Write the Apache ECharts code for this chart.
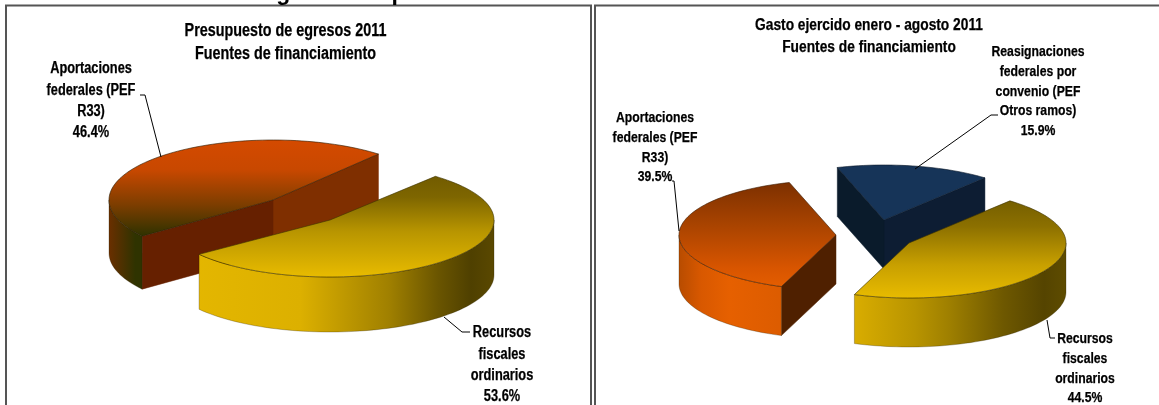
<!DOCTYPE html>
<html><head><meta charset="utf-8">
<style>html,body{margin:0;padding:0;background:#fff;overflow:hidden}#c{width:1159px;height:405px;filter:blur(0.45px)}</style>
<script src="https://cdn.jsdelivr.net/npm/echarts@6/dist/echarts.min.js"></script>
</head><body><div id="c"></div>
<script>
// ---- data ----
const budgetCategories = ["Aportaciones\nfederales (PEF\nR33)", "Recursos\nfiscales\nordinarios"];
const budgetValues = [46.4, 53.6];
const spentCategories = ["Reasignaciones\nfederales por\nconvenio (PEF\nOtros ramos)", "Aportaciones\nfederales (PEF\nR33)", "Recursos\nfiscales\nordinarios"];
const spentValues = [15.9, 39.5, 44.5];
const budgetTitle = "Presupuesto de egresos 2011\nFuentes de financiamiento";
const spentTitle = "Gasto ejercido enero - agosto 2011\nFuentes de financiamiento";

// ---- layout and style ----
const START_ANGLE = 50, NARROW = 0.82;
const font = px => 'bold ' + px + 'px "Liberation Sans", Arial, sans-serif';
const orangeDark = {
  top: [[0,'#d44a00'],[.25,'#c84800'],[.55,'#7a3d00'],[.8,'#2e3200'],[1,'#2e3200']],
  wall: [[0,'#6a2f00'],[.08,'#2f3300'],[1,'#2f3300']], startCut:'#7f2f00', endCut:'#662000', edge:'#2a1a00'
};
const orangeBright = {
  top: [[0,'#7a2f00'],[.4,'#a84300'],[.8,'#d85500'],[1,'#e65f00']],
  wall: [[0,'#b84c00'],[.07,'#d85800'],[.16,'#e66000'],[.4,'#d85a00'],[1,'#d85a00']], startCut:'#4f2000', endCut:'#4f2000', edge:'#3a1a00'
};
const yellowA = {
  top: [[0,'#6a5500'],[.3,'#7e6600'],[.6,'#b89500'],[1,'#e8bb00']],
  wall: [[0,'#e6b800'],[.41,'#dcb000'],[.68,'#a08000'],[.83,'#6a5500'],[.93,'#4f4000'],[1,'#5a4800']], startCut:'#e6b800', endCut:'#5a4800', edge:'#3a3000'
};
const yellowB = {
  top: [[0,'#6a5600'],[.35,'#8c7000'],[.7,'#c8a000'],[1,'#e8bb00']],
  wall: [[0,'#e0b300'],[.33,'#d8ac00'],[.52,'#b89400'],[.63,'#9e7f00'],[.8,'#6e5800'],[.93,'#554400'],[1,'#5e4c00']], startCut:'#e0b300', endCut:'#5e4c00', edge:'#3a3000'
};
const navy = {
  top: [[0,'#163458'],[1,'#163458']], wall: [[0,'#0c1b2f'],[1,'#0c1b2f']], startCut:'#0d1d33', endCut:'#0a1b2b', edge:'#0a1828'
};
const budgetLayout = {
  fontSize: 15.6, lineHeight: 21.3,
  slices: [
    {cx:273, cy:200, rx:164, ry:60, depth:53, colors:orangeDark, labelX:91, labelY:58.5, leader:[[140,95],[145,95],[161,157]]},
    {cx:330, cy:220, rx:164, ry:57, depth:55, colors:yellowA, labelX:502, labelY:322.5, leader:[[470,332],[462,332],[444,317]]}
  ]
};
const spentLayout = {
  fontSize: 14.9, lineHeight: 19.8,
  slices: [
    {cx:884, cy:220, rx:157, ry:55, depth:49, colors:navy, labelX:1038, labelY:42, leader:[[998,115],[991,115],[915,169]]},
    {cx:836, cy:235, rx:157, ry:55, depth:49, colors:orangeBright, labelX:655, labelY:108, leader:[[672,181],[674,181],[679,231]]},
    {cx:909, cy:243, rx:157, ry:55, depth:49, colors:yellowB, labelX:1085, labelY:329, leader:[[1047,320],[1050,338],[1055,338]]}
  ]
};

function sliceAngles(values) {
  const total = values.reduce((a, b) => a + b, 0);
  let acc = START_ANGLE;
  return values.map(v => { const s = acc; acc += v / total * 360; return [s, acc]; });
}
function gradient(x, y, x2, y2, stops) {
  return {type:'linear', x, y, x2, y2, global:true, colorStops: stops.map(s => ({offset:s[0], color:s[1]}))};
}
function makeRender(values, categories, layout) {
  const angles = sliceAngles(values);
  return function (params, api) {
    const i = params.dataIndex, s = layout.slices[i];
    const v = api.value(0);
    const [a, b] = angles[i];
    const pt = t => [s.cx + s.rx * Math.cos(t * Math.PI / 180), s.cy - s.ry * Math.sin(t * Math.PI / 180)];
    const arc = (f, t) => { const o = []; const n = Math.max(2, Math.ceil(Math.abs(t - f) / 2)); for (let k = 0; k <= n; k++) o.push(pt(f + (t - f) * k / n)); return o; };
    const down = p => [p[0], p[1] + s.depth];
    const children = [];
    const apex = [s.cx, s.cy];
    const cut = (t, fill) => children.push({type:'polygon', shape:{points:[apex, pt(t), down(pt(t)), down(apex)]},
      style:{fill, stroke:fill, lineWidth:.5}});
    if (Math.cos(a * Math.PI / 180) > 0) cut(a, s.colors.startCut);
    if (Math.cos(b * Math.PI / 180) < 0) cut(b, s.colors.endCut);
    const wallFill = gradient(s.cx - s.rx, 0, s.cx + s.rx, 0, s.colors.wall);
    for (let k = 0; k < 2; k++) {
      const f = Math.max(a, 180 + 360 * k), t = Math.min(b, 360 + 360 * k);
      if (t > f) {
        const top = arc(f, t);
        children.push({type:'polygon', shape:{points: top.concat(top.slice().reverse().map(down))}, style:{fill:wallFill, stroke:'rgba(40,30,0,.55)', lineWidth:.5}});
      }
    }
    children.push({type:'polygon', shape:{points:[apex].concat(arc(a, b))},
      style:{fill:gradient(0, s.cy - s.ry, 0, s.cy + s.ry, s.colors.top), stroke:s.colors.edge, lineWidth:.6}});
    children.push({type:'polyline', shape:{points:s.leader}, style:{fill:null, stroke:'#000', lineWidth:1}});
    children.push({type:'text', x:s.labelX, y:s.labelY, scaleX:NARROW, style:{
      text: categories[i] + '\n' + v.toFixed(1) + '%',
      font: font(layout.fontSize), lineHeight: layout.lineHeight, fill:'#000', stroke:'#000', lineWidth:.25, textAlign:'center', textVerticalAlign:'top'
    }});
    return {type:'group', children};
  };
}
function customSeries(values, categories, layout) {
  return {type:'custom', coordinateSystem:'none', silent:true, animation:false,
    renderItem: makeRender(values, categories, layout), data: values.map(v => [v])};
}
function textEl(text, x, y, px, lh, scale) {
  return {type:'text', x, y, scaleX:scale, silent:true, z:10, style:{text, font:font(px), lineHeight:lh, fill:'#000', stroke:'#000', lineWidth:.25, textAlign:'center', textVerticalAlign:'middle'}};
}
const chart = echarts.init(document.getElementById('c'), null, {renderer:'canvas'});
chart.setOption({
  backgroundColor:'#fff', animation:false,
  graphic: [
    {type:'polyline', silent:true, shape:{points:[[6,405],[6,5.5],[591,5.5],[591,405]]}, style:{fill:null, stroke:'#555', lineWidth:2}},
    {type:'polyline', silent:true, shape:{points:[[595,405],[595,5.5],[1159,5.5]]}, style:{fill:null, stroke:'#555', lineWidth:2}},
    {type:'text', x:261, y:-18, silent:true, style:{text:'Egresos de periodo', font:'bold 23px "Liberation Sans", Arial, sans-serif', fill:'#000', textAlign:'left', textVerticalAlign:'top'}},
    textEl(budgetTitle, 285.5, 43, 17.5, 23, NARROW),
    textEl(spentTitle, 869, 36, 16.8, 22, NARROW)
  ],
  series: [customSeries(budgetValues, budgetCategories, budgetLayout), customSeries(spentValues, spentCategories, spentLayout)]
});
</script></body></html>
